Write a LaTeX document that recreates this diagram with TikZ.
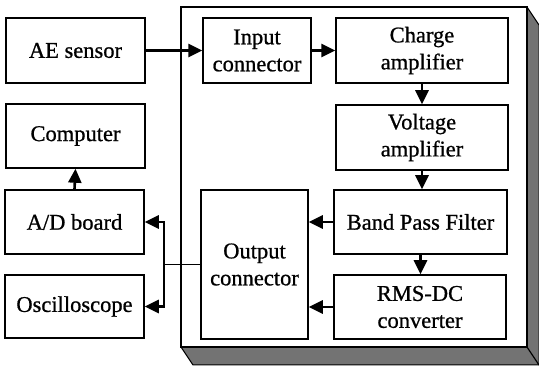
\documentclass[tikz,border=0pt]{standalone}
\usepackage{fontspec}
\setmainfont{Liberation Serif}[FakeBold=0.8]
\usetikzlibrary{arrows.meta,calc}
\begin{document}
\begin{tikzpicture}[x=1pt,y=-1pt,
  box/.style={draw, line width=1.5pt, align=center, inner sep=0pt,
    font=\fontsize{22.5}{27}\selectfont},
  arr/.style={line width=2.6pt, -{Triangle[length=14pt,width=13pt]}},
  thin/.style={line width=1.4pt}]
\useasboundingbox[fill=white] (0,0) rectangle (539,366);
% 3D frame
\coordinate (ftl) at (181,7);
\coordinate (ftr) at (527,7);
\coordinate (fbr) at (527,347);
\coordinate (fbl) at (181,347);
\draw[line width=1pt, fill=black!55] (ftr) -- ($(ftr)+(12,18)$) -- ($(fbr)+(12,18)$) -- ($(fbl)+(12,18)$) -- (fbl) -- cycle;
\draw[line width=1.2pt] (fbr) -- ($(fbr)+(12,18)$);
\draw[line width=1.5pt, fill=white] (ftl) rectangle (fbr);
% nodes
\node[box, minimum width=139pt, minimum height=65pt] (ae) at (75.5,50.5) {AE sensor};
\node[box, minimum width=139pt, minimum height=64pt] (comp) at (75.5,136) {Computer};
\node[box, minimum width=139pt, minimum height=64pt] (ad) at (74.5,222) {A/D board};
\node[box, minimum width=139pt, minimum height=63pt] (osc) at (74.5,306.5) {Oscilloscope};
\node[box, minimum width=108pt, minimum height=65pt] (inp) at (257,50.5) {Input\\connector};
\node[box, minimum width=172pt, minimum height=65pt] (chg) at (422,50.5) {Charge\\amplifier};
\node[box, minimum width=172pt, minimum height=65pt] (volt) at (422,137.5) {Voltage\\amplifier};
\node[box, minimum width=173pt, minimum height=64pt] (bpf) at (420.5,222) {Band Pass Filter};
\node[box, minimum width=172pt, minimum height=64pt] (rms) at (420,307) {RMS-DC\\converter};
\node[box, minimum width=107pt, minimum height=149pt] (out) at (254.5,264.5) {Output\\connector};
% connectors
\draw[arr] (ae.east) -- (inp.west);
\draw[arr] (inp.east) -- (chg.west);
\draw[arr] (chg.south) -- (volt.north);
\draw[arr] (volt.south) -- (volt.south |- bpf.north);
\draw[arr] (bpf.south) -- (bpf.south |- rms.north);
\draw[arr] (bpf.west) -- (bpf.west -| out.east);
\draw[arr] (rms.west) -- (rms.west -| out.east);
\draw[arr] (ad.north) -- (comp.south);
\coordinate (br) at (164,264.5);
\draw[thin] (out.west) -- (br);
\draw[arr] ($(br)+(0,1.3)$) |- (ad.east);
\draw[arr] ($(br)+(0,-1.3)$) |- (osc.east);
\end{tikzpicture}
\end{document}
